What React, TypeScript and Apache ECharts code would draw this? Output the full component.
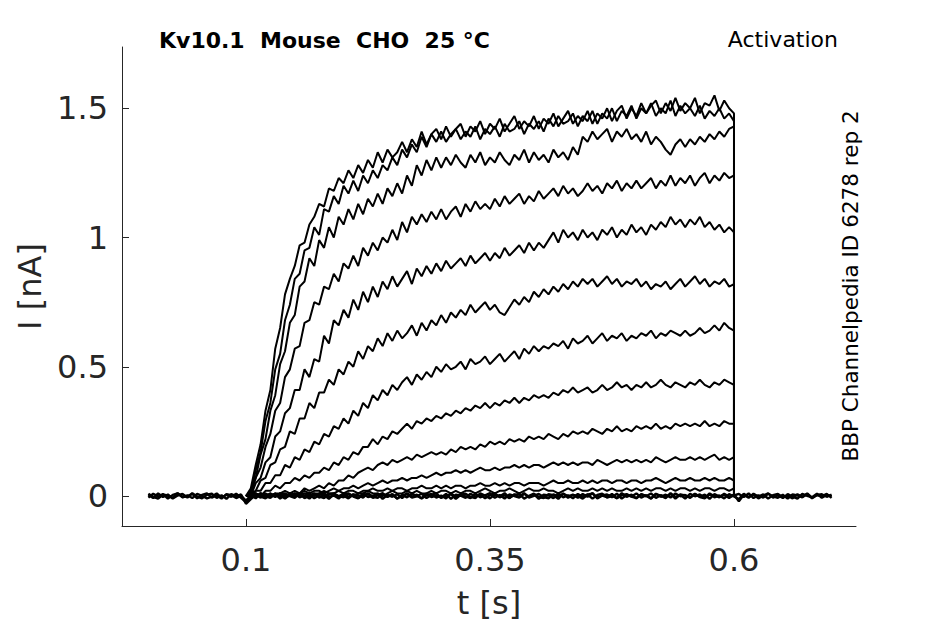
import React, { useEffect, useRef } from "react";
import * as echarts from "echarts";

// ---- Text ----
const TITLE = "Kv10.1  Mouse  CHO  25 °C";
const PROTOCOL = "Activation";
const SOURCE = "BBP Channelpedia ID 6278 rep 2";
const X_NAME = "t [s]";
const Y_NAME = "I [nA]";
const X_TICKS = [0.1, 0.35, 0.6];
const Y_TICKS = [0, 0.5, 1, 1.5];

// ---- Sample times (s) ----
const T_PRE = [0, 0.005, 0.01, 0.015, 0.02, 0.025, 0.03, 0.035, 0.04, 0.045, 0.05, 0.055, 0.06, 0.065, 0.07, 0.075, 0.08, 0.085, 0.09, 0.095];
const T_ACT = [
  0.1, 0.105, 0.11, 0.115, 0.12, 0.125, 0.13, 0.135, 0.14, 0.145,
  0.15, 0.155, 0.16, 0.165, 0.17, 0.175, 0.18, 0.185, 0.19, 0.195,
  0.2, 0.205, 0.21, 0.215, 0.22, 0.225, 0.23, 0.235, 0.24, 0.245,
  0.25, 0.255, 0.26, 0.265, 0.27, 0.275, 0.28, 0.285, 0.29, 0.295,
  0.3, 0.305, 0.31, 0.315, 0.32, 0.325, 0.33, 0.335, 0.34, 0.345,
  0.35, 0.355, 0.36, 0.365, 0.37, 0.375, 0.38, 0.385, 0.39, 0.395,
  0.4, 0.405, 0.41, 0.415, 0.42, 0.425, 0.43, 0.435, 0.44, 0.445,
  0.45, 0.455, 0.46, 0.465, 0.47, 0.475, 0.48, 0.485, 0.49, 0.495,
  0.5, 0.505, 0.51, 0.515, 0.52, 0.525, 0.53, 0.535, 0.54, 0.545,
  0.55, 0.555, 0.56, 0.565, 0.57, 0.575, 0.58, 0.585, 0.59, 0.595,
  0.6,
];
const T_POST = [0.605, 0.61, 0.615, 0.62, 0.625, 0.63, 0.635, 0.64, 0.645, 0.65, 0.655, 0.66, 0.665, 0.67, 0.675, 0.68, 0.685, 0.69, 0.695, 0.7];

// ---- Currents (nA) during the voltage step, one array per sweep ----
const SWEEP_A = [
  0.00, 0.03, 0.12, 0.20, 0.33, 0.41, 0.57, 0.65, 0.78, 0.84,
  0.89, 0.97, 0.98, 1.05, 1.08, 1.13, 1.12, 1.19, 1.18, 1.23,
  1.21, 1.26, 1.23, 1.28, 1.25, 1.30, 1.27, 1.33, 1.29, 1.34,
  1.31, 1.33, 1.37, 1.33, 1.38, 1.35, 1.41, 1.36, 1.40, 1.42,
  1.38, 1.43, 1.39, 1.42, 1.44, 1.39, 1.43, 1.41, 1.45, 1.40,
  1.44, 1.42, 1.46, 1.41, 1.44, 1.47, 1.42, 1.45, 1.43, 1.47,
  1.42, 1.46, 1.44, 1.48, 1.43, 1.46, 1.49, 1.44, 1.47, 1.45,
  1.49, 1.44, 1.48, 1.46, 1.50, 1.45, 1.49, 1.51, 1.46, 1.50,
  1.47, 1.52, 1.48, 1.51, 1.53, 1.48, 1.52, 1.49, 1.54, 1.49,
  1.52, 1.50, 1.54, 1.48, 1.52, 1.51, 1.55, 1.49, 1.53, 1.50,
  1.48,
];
const SWEEP_B = [
  0.00, 0.01, 0.10, 0.17, 0.29, 0.36, 0.49, 0.55, 0.68, 0.74,
  0.84, 0.86, 0.95, 0.96, 1.04, 1.01, 1.11, 1.10, 1.16, 1.13,
  1.20, 1.17, 1.22, 1.18, 1.24, 1.21, 1.26, 1.23, 1.28, 1.26,
  1.31, 1.28, 1.34, 1.31, 1.36, 1.33, 1.39, 1.35, 1.40, 1.37,
  1.41, 1.37, 1.40, 1.42, 1.38, 1.41, 1.39, 1.43, 1.38, 1.42,
  1.40, 1.43, 1.39, 1.44, 1.41, 1.42, 1.45, 1.40, 1.44, 1.42,
  1.45, 1.41, 1.46, 1.43, 1.47, 1.44, 1.45, 1.48, 1.43, 1.47,
  1.45, 1.49, 1.44, 1.48, 1.46, 1.50, 1.45, 1.49, 1.47, 1.51,
  1.46, 1.50, 1.48, 1.52, 1.47, 1.50, 1.48, 1.53, 1.47, 1.51,
  1.48, 1.50, 1.47, 1.51, 1.46, 1.49, 1.47, 1.50, 1.46, 1.48,
  1.45,
];
const SWEEP_C = [
  0.00, 0.02, 0.07, 0.16, 0.22, 0.33, 0.39, 0.51, 0.56, 0.67,
  0.70, 0.81, 0.83, 0.92, 0.89, 0.99, 0.96, 1.04, 1.00, 1.08,
  1.05, 1.11, 1.07, 1.13, 1.09, 1.15, 1.12, 1.17, 1.13, 1.19,
  1.16, 1.21, 1.17, 1.24, 1.20, 1.28, 1.24, 1.30, 1.26, 1.31,
  1.27, 1.31, 1.28, 1.32, 1.29, 1.27, 1.32, 1.29, 1.33, 1.28,
  1.31, 1.29, 1.33, 1.30, 1.28, 1.32, 1.30, 1.34, 1.29, 1.33,
  1.30, 1.32, 1.29, 1.34, 1.31, 1.33, 1.30, 1.35, 1.32, 1.39,
  1.37, 1.41, 1.38, 1.40, 1.42, 1.37, 1.41, 1.39, 1.42, 1.38,
  1.40, 1.37, 1.41, 1.36, 1.39, 1.37, 1.34, 1.32, 1.36, 1.38,
  1.35, 1.38, 1.36, 1.39, 1.37, 1.40, 1.38, 1.41, 1.39, 1.42,
  1.43,
];
const SWEEP_D = [
  0.00, 0.01, 0.07, 0.11, 0.19, 0.24, 0.33, 0.36, 0.46, 0.49,
  0.57, 0.58, 0.67, 0.68, 0.75, 0.74, 0.81, 0.80, 0.86, 0.83,
  0.90, 0.88, 0.93, 0.89, 0.96, 0.93, 0.98, 0.95, 1.00, 0.98,
  1.03, 0.99, 1.06, 1.02, 1.08, 1.05, 1.09, 1.06, 1.10, 1.07,
  1.11, 1.07, 1.10, 1.12, 1.08, 1.13, 1.10, 1.14, 1.11, 1.13,
  1.11, 1.15, 1.12, 1.16, 1.13, 1.15, 1.17, 1.13, 1.16, 1.14,
  1.18, 1.15, 1.17, 1.19, 1.16, 1.20, 1.17, 1.19, 1.16, 1.18,
  1.21, 1.18, 1.20, 1.17, 1.21, 1.19, 1.22, 1.18, 1.21, 1.19,
  1.22, 1.19, 1.21, 1.23, 1.19, 1.22, 1.20, 1.24, 1.20, 1.23,
  1.21, 1.24, 1.20, 1.23, 1.25, 1.21, 1.24, 1.22, 1.25, 1.23,
  1.24,
];
const SWEEP_E = [
  0.00, 0.00, 0.05, 0.07, 0.13, 0.15, 0.23, 0.25, 0.32, 0.34,
  0.41, 0.41, 0.49, 0.46, 0.53, 0.52, 0.62, 0.59, 0.68, 0.66,
  0.72, 0.69, 0.76, 0.72, 0.79, 0.75, 0.81, 0.77, 0.83, 0.80,
  0.85, 0.81, 0.84, 0.87, 0.82, 0.88, 0.85, 0.89, 0.86, 0.90,
  0.87, 0.91, 0.88, 0.90, 0.92, 0.89, 0.93, 0.90, 0.92, 0.94,
  0.91, 0.94, 0.92, 0.96, 0.93, 0.95, 0.97, 0.94, 0.98, 0.95,
  0.98, 0.96, 0.99, 1.02, 0.98, 1.03, 1.00, 1.02, 0.99, 1.03,
  1.00, 1.02, 0.99, 1.03, 1.01, 1.04, 1.00, 1.03, 1.01, 1.05,
  1.02, 1.04, 1.01, 1.05, 1.03, 1.06, 1.04, 1.08, 1.05, 1.07,
  1.04, 1.07, 1.05, 1.08, 1.04, 1.06, 1.03, 1.05, 1.02, 1.04,
  1.02,
];
const SWEEP_F = [
  0.00, 0.01, 0.02, 0.06, 0.07, 0.12, 0.13, 0.18, 0.19, 0.25,
  0.24, 0.30, 0.30, 0.36, 0.34, 0.40, 0.40, 0.45, 0.43, 0.49,
  0.47, 0.52, 0.50, 0.56, 0.53, 0.58, 0.56, 0.61, 0.58, 0.63,
  0.60, 0.64, 0.61, 0.63, 0.66, 0.62, 0.67, 0.64, 0.68, 0.66,
  0.70, 0.67, 0.71, 0.69, 0.72, 0.70, 0.74, 0.71, 0.73, 0.75,
  0.72, 0.74, 0.71, 0.70, 0.73, 0.76, 0.74, 0.77, 0.75, 0.79,
  0.77, 0.80, 0.78, 0.81, 0.79, 0.82, 0.80, 0.83, 0.81, 0.84,
  0.82, 0.84, 0.81, 0.83, 0.85, 0.82, 0.84, 0.81, 0.83, 0.82,
  0.84, 0.81, 0.83, 0.80, 0.82, 0.81, 0.83, 0.80, 0.82, 0.84,
  0.81, 0.83, 0.85, 0.82, 0.84, 0.81, 0.83, 0.82, 0.84, 0.81,
  0.82,
];
const SWEEP_G = [
  0.00, 0.00, 0.02, 0.02, 0.05, 0.05, 0.08, 0.08, 0.12, 0.11,
  0.15, 0.14, 0.18, 0.17, 0.21, 0.20, 0.24, 0.23, 0.27, 0.26,
  0.30, 0.28, 0.33, 0.31, 0.36, 0.34, 0.39, 0.37, 0.41, 0.39,
  0.43, 0.41, 0.44, 0.46, 0.43, 0.47, 0.45, 0.48, 0.46, 0.50,
  0.48, 0.51, 0.49, 0.50, 0.52, 0.49, 0.53, 0.51, 0.52, 0.54,
  0.51, 0.53, 0.55, 0.52, 0.54, 0.56, 0.53, 0.57, 0.55, 0.58,
  0.56, 0.58, 0.57, 0.59, 0.58, 0.60, 0.57, 0.61, 0.59, 0.60,
  0.62, 0.59, 0.61, 0.63, 0.60, 0.62, 0.61, 0.63, 0.60, 0.62,
  0.61, 0.63, 0.62, 0.64, 0.61, 0.63, 0.62, 0.64, 0.63, 0.62,
  0.64, 0.62, 0.63, 0.65, 0.63, 0.64, 0.66, 0.64, 0.67, 0.65,
  0.64,
];
const SWEEP_H = [
  0.00, 0.00, 0.01, 0.00, 0.02, 0.02, 0.04, 0.03, 0.05, 0.05,
  0.07, 0.06, 0.08, 0.07, 0.09, 0.09, 0.11, 0.10, 0.13, 0.12,
  0.15, 0.14, 0.17, 0.16, 0.19, 0.19, 0.22, 0.20, 0.23, 0.22,
  0.25, 0.24, 0.26, 0.28, 0.26, 0.29, 0.28, 0.30, 0.29, 0.31,
  0.30, 0.32, 0.31, 0.33, 0.32, 0.34, 0.33, 0.35, 0.34, 0.36,
  0.34, 0.36, 0.35, 0.37, 0.36, 0.38, 0.36, 0.38, 0.37, 0.39,
  0.38, 0.39, 0.38, 0.40, 0.39, 0.41, 0.40, 0.42, 0.40, 0.41,
  0.42, 0.40, 0.41, 0.43, 0.41, 0.42, 0.44, 0.42, 0.43, 0.41,
  0.43, 0.42, 0.44, 0.42, 0.43, 0.45, 0.43, 0.42, 0.44, 0.43,
  0.42, 0.44, 0.43, 0.45, 0.43, 0.42, 0.44, 0.43, 0.45, 0.44,
  0.43,
];
const SWEEP_I = [
  0.00, 0.00, 0.01, 0.00, 0.01, 0.00, 0.01, 0.01, 0.02, 0.01,
  0.02, 0.01, 0.03, 0.02, 0.03, 0.04, 0.03, 0.05, 0.04, 0.06,
  0.06, 0.08, 0.07, 0.09, 0.10, 0.11, 0.10, 0.12, 0.13, 0.12,
  0.14, 0.13, 0.14, 0.15, 0.14, 0.16, 0.15, 0.16, 0.17, 0.16,
  0.17, 0.16, 0.18, 0.17, 0.19, 0.18, 0.19, 0.18, 0.20, 0.19,
  0.21, 0.20, 0.21, 0.20, 0.22, 0.21, 0.22, 0.21, 0.23, 0.22,
  0.23, 0.22, 0.24, 0.23, 0.22, 0.24, 0.23, 0.25, 0.24, 0.25,
  0.24, 0.26, 0.25, 0.24, 0.26, 0.25, 0.27, 0.25, 0.26, 0.25,
  0.27, 0.26, 0.27, 0.26, 0.28, 0.26, 0.27, 0.26, 0.28, 0.27,
  0.28, 0.27, 0.28, 0.27, 0.29, 0.27, 0.28, 0.27, 0.29, 0.28,
  0.28,
];
const SWEEP_J = [
  0.00, 0.00, 0.00, 0.01, 0.00, 0.01, 0.00, 0.01, 0.01, 0.00,
  0.01, 0.01, 0.02, 0.01, 0.02, 0.02, 0.01, 0.02, 0.03, 0.02,
  0.03, 0.03, 0.04, 0.03, 0.04, 0.05, 0.04, 0.05, 0.06, 0.05,
  0.06, 0.06, 0.07, 0.06, 0.07, 0.07, 0.08, 0.07, 0.08, 0.09,
  0.08, 0.09, 0.09, 0.10, 0.09, 0.10, 0.09, 0.10, 0.11, 0.10,
  0.10, 0.11, 0.10, 0.11, 0.11, 0.12, 0.11, 0.12, 0.11, 0.12,
  0.12, 0.11, 0.12, 0.13, 0.12, 0.13, 0.12, 0.13, 0.12, 0.13,
  0.13, 0.12, 0.14, 0.13, 0.12, 0.13, 0.14, 0.13, 0.14, 0.13,
  0.14, 0.13, 0.14, 0.13, 0.15, 0.14, 0.13, 0.14, 0.15, 0.14,
  0.14, 0.15, 0.14, 0.15, 0.14, 0.15, 0.16, 0.14, 0.15, 0.14,
  0.15,
];
const SWEEP_K = [
  0.00, 0.00, 0.01, 0.00, 0.00, 0.01, 0.00, 0.01, 0.00, 0.01,
  0.00, 0.01, 0.01, 0.00, 0.01, 0.01, 0.02, 0.01, 0.01, 0.02,
  0.01, 0.02, 0.02, 0.01, 0.02, 0.02, 0.03, 0.02, 0.02, 0.03,
  0.02, 0.03, 0.03, 0.02, 0.03, 0.03, 0.04, 0.03, 0.03, 0.04,
  0.03, 0.04, 0.03, 0.04, 0.04, 0.03, 0.04, 0.04, 0.05, 0.04,
  0.04, 0.05, 0.04, 0.05, 0.04, 0.05, 0.05, 0.04, 0.05, 0.05,
  0.05, 0.04, 0.05, 0.06, 0.05, 0.05, 0.06, 0.05, 0.05, 0.06,
  0.05, 0.06, 0.05, 0.06, 0.06, 0.05, 0.06, 0.06, 0.05, 0.06,
  0.06, 0.05, 0.06, 0.06, 0.07, 0.06, 0.05, 0.06, 0.07, 0.06,
  0.06, 0.07, 0.06, 0.06, 0.07, 0.06, 0.07, 0.06, 0.06, 0.07,
  0.06,
];
const SWEEP_L = [
  0.00, 0.00, 0.00, 0.01, 0.00, 0.00, 0.01, 0.00, 0.01, 0.00,
  0.01, 0.00, 0.01, 0.01, 0.00, 0.01, 0.00, 0.01, 0.01, 0.00,
  0.01, 0.01, 0.00, 0.01, 0.01, 0.02, 0.01, 0.01, 0.00, 0.01,
  0.02, 0.01, 0.01, 0.02, 0.01, 0.02, 0.01, 0.01, 0.02, 0.01,
  0.02, 0.02, 0.01, 0.02, 0.01, 0.02, 0.02, 0.01, 0.02, 0.03,
  0.02, 0.01, 0.02, 0.02, 0.03, 0.02, 0.01, 0.02, 0.03, 0.02,
  0.02, 0.03, 0.02, 0.02, 0.01, 0.02, 0.03, 0.02, 0.03, 0.02,
  0.02, 0.03, 0.02, 0.03, 0.02, 0.03, 0.02, 0.02, 0.03, 0.02,
  0.03, 0.02, 0.03, 0.02, 0.03, 0.03, 0.02, 0.03, 0.02, 0.03,
  0.03, 0.02, 0.03, 0.02, 0.03, 0.03, 0.02, 0.03, 0.03, 0.02,
  0.03,
];

// ---- Non-activating sweeps (whole record, baseline band) ----
const REST_M_PRE = [0.004, -0.008, 0.010, -0.004, 0.006, -0.010, 0.002, 0.008, -0.006, 0.011, -0.002, -0.009, 0.005, 0.009, -0.007, 0.003, -0.011, 0.007, -0.001, 0.006];
const REST_M_ACT = [
  -0.030, -0.012, 0.004, -0.006, 0.009, -0.003, 0.007, -0.010, 0.005, 0.000,
  -0.007, 0.010, -0.004, 0.006, -0.009, 0.003, 0.011, -0.005, 0.002, -0.010,
  0.008, -0.002, 0.006, -0.008, 0.010, -0.004, 0.001, 0.009, -0.011, 0.004,
  -0.003, 0.007, -0.008, 0.011, -0.002, 0.005, -0.010, 0.003, 0.008, -0.006,
  0.002, -0.009, 0.010, -0.004, 0.006, -0.001, -0.008, 0.009, -0.005, 0.003,
  0.011, -0.007, 0.004, -0.010, 0.006, 0.000, -0.006, 0.009, -0.003, 0.007,
  -0.011, 0.005, 0.002, -0.008, 0.010, -0.005, 0.003, -0.009, 0.008, -0.002,
  0.006, -0.010, 0.004, 0.009, -0.006, 0.001, -0.008, 0.011, -0.003, 0.005,
  -0.009, 0.007, -0.001, 0.010, -0.007, 0.003, -0.004, 0.008, -0.010, 0.006,
  0.002, -0.006, 0.009, -0.003, 0.005, -0.011, 0.007, -0.002, 0.004, -0.008,
  0.006,
];
const REST_M_POST = [-0.020, 0.005, -0.007, 0.009, -0.002, 0.006, -0.010, 0.003, 0.008, -0.005, 0.001, -0.009, 0.007, -0.003, 0.010, -0.006, 0.004, -0.001, 0.008, -0.007];
const REST_N_PRE = [-0.006, 0.009, -0.002, 0.007, -0.010, 0.004, 0.010, -0.005, 0.003, -0.008, 0.008, 0.001, -0.009, -0.002, 0.010, -0.006, 0.005, -0.003, 0.009, -0.007];
const REST_N_ACT = [
  -0.024, -0.006, 0.008, -0.002, -0.009, 0.006, -0.004, 0.010, -0.007, 0.003,
  0.009, -0.005, 0.002, -0.010, 0.007, -0.001, -0.008, 0.005, 0.010, -0.004,
  0.001, -0.009, 0.006, 0.003, -0.006, 0.011, -0.003, -0.007, 0.008, -0.002,
  0.007, -0.010, 0.004, -0.005, 0.009, 0.000, -0.008, 0.010, -0.004, 0.002,
  -0.006, 0.008, -0.011, 0.005, 0.001, -0.007, 0.009, -0.002, 0.006, -0.009,
  0.003, 0.010, -0.005, 0.002, -0.008, 0.007, -0.003, 0.011, -0.006, 0.001,
  0.008, -0.004, -0.009, 0.006, -0.001, 0.009, -0.007, 0.004, 0.000, -0.010,
  0.005, 0.010, -0.006, 0.002, -0.004, 0.008, -0.009, 0.003, 0.007, -0.002,
  -0.008, 0.006, 0.001, -0.010, 0.009, -0.003, 0.005, -0.006, 0.010, -0.001,
  0.004, -0.007, 0.008, -0.004, -0.009, 0.006, 0.002, -0.005, 0.009, -0.003,
  0.002,
];
const REST_N_POST = [0.008, -0.004, 0.010, -0.008, 0.003, -0.006, 0.009, -0.001, -0.007, 0.005, -0.010, 0.006, 0.002, -0.005, 0.008, -0.009, 0.004, 0.007, -0.003, 0.005];
const REST_O_PRE = [0.009, -0.003, -0.010, 0.006, 0.001, -0.007, 0.011, -0.004, -0.001, 0.008, -0.009, 0.004, 0.010, -0.006, 0.002, -0.010, 0.007, 0.003, -0.008, 0.001];
const REST_O_ACT = [
  -0.018, 0.004, -0.009, 0.011, -0.001, -0.007, 0.008, 0.002, -0.010, 0.006,
  -0.003, 0.009, -0.008, 0.001, 0.010, -0.006, 0.004, -0.011, 0.007, 0.000,
  -0.005, 0.010, -0.002, -0.009, 0.005, 0.008, -0.007, 0.003, 0.011, -0.004,
  0.006, -0.010, 0.002, 0.008, -0.006, -0.001, 0.009, -0.008, 0.004, 0.010,
  -0.007, 0.001, 0.007, -0.011, 0.005, 0.009, -0.003, -0.008, 0.010, 0.002,
  -0.009, 0.006, -0.002, 0.011, -0.006, 0.004, 0.008, -0.010, 0.001, 0.009,
  -0.004, -0.008, 0.007, 0.003, -0.011, 0.010, -0.001, 0.005, -0.007, 0.008,
  -0.003, 0.011, -0.009, 0.002, 0.006, -0.005, 0.009, -0.010, 0.004, -0.002,
  0.010, -0.006, 0.003, -0.009, 0.007, 0.001, -0.008, 0.011, -0.004, 0.005,
  -0.010, 0.008, -0.001, 0.006, -0.007, 0.010, -0.005, 0.002, -0.009, 0.007,
  -0.002,
];
const REST_O_POST = [-0.012, 0.009, -0.004, 0.006, -0.009, 0.002, 0.010, -0.006, 0.003, -0.008, 0.007, -0.002, -0.010, 0.008, 0.001, -0.005, 0.009, -0.007, 0.004, -0.001];

const ACTIVE_SWEEPS = [SWEEP_A, SWEEP_B, SWEEP_C, SWEEP_D, SWEEP_E, SWEEP_F, SWEEP_G, SWEEP_H, SWEEP_I, SWEEP_J, SWEEP_K, SWEEP_L];
const REST_SWEEPS = [
  [REST_M_PRE, REST_M_ACT, REST_M_POST],
  [REST_N_PRE, REST_N_ACT, REST_N_POST],
  [REST_O_PRE, REST_O_ACT, REST_O_POST],
];

const FONT = "DejaVu Sans";
const INK = "#262626";

const zip = (ts: number[], vs: number[]) => ts.map((t, i) => [t, vs[i]]);

function buildOption() {
  const lineBase = {
    type: "line",
    showSymbol: false,
    symbol: "none",
    silent: true,
    animation: false,
  };
  const series: any[] = [];
  REST_SWEEPS.forEach(([pre, act, post]) => {
    series.push({
      ...lineBase,
      lineStyle: { color: "#000", width: 2.4 },
      data: [...zip(T_PRE, pre), ...zip(T_ACT, act), ...zip(T_POST, post)],
    });
  });
  ACTIVE_SWEEPS.forEach((vals) => {
    series.push({
      ...lineBase,
      lineStyle: { color: "#000", width: 2 },
      data: [...zip(T_ACT, vals), [T_ACT[T_ACT.length - 1], 0]],
    });
  });

  return {
    animation: false,
    backgroundColor: "#fff",
    grid: { left: 122, right: 89, top: 47, bottom: 98, containLabel: false },
    xAxis: {
      type: "value",
      min: -0.027,
      max: 0.725,
      name: X_NAME,
      nameLocation: "middle",
      nameGap: 61,
      nameTextStyle: { fontSize: 32, fontFamily: FONT, color: INK },
      axisLine: { onZero: false, lineStyle: { color: INK, width: 1 } },
      axisTick: { inside: true, length: 7, customValues: X_TICKS, lineStyle: { color: INK } },
      axisLabel: {
        customValues: X_TICKS,
        margin: 18,
        fontSize: 32,
        fontFamily: FONT,
        color: INK,
        formatter: (v: number) => String(v),
      },
      splitLine: { show: false },
    },
    yAxis: {
      type: "value",
      min: -0.116,
      max: 1.737,
      name: Y_NAME,
      nameLocation: "middle",
      nameGap: 76,
      nameRotate: 90,
      nameTextStyle: { fontSize: 32, fontFamily: FONT, color: INK },
      axisLine: { show: true, onZero: false, lineStyle: { color: INK, width: 1 } },
      axisTick: { show: true, inside: true, length: 7, customValues: Y_TICKS, lineStyle: { color: INK } },
      axisLabel: {
        customValues: Y_TICKS,
        margin: 14,
        fontSize: 32,
        fontFamily: FONT,
        color: INK,
        formatter: (v: number) => String(v),
      },
      splitLine: { show: false },
    },
    graphic: [
      {
        type: "text",
        x: 159,
        y: 40,
        silent: true,
        style: { text: TITLE, fontSize: 22, fontWeight: "bold", fontFamily: FONT, fill: "#000", align: "left", verticalAlign: "middle" },
      },
      {
        type: "text",
        x: 838,
        y: 39,
        silent: true,
        style: { text: PROTOCOL, fontSize: 22, fontFamily: FONT, fill: "#000", align: "right", verticalAlign: "middle" },
      },
      {
        type: "text",
        x: 850,
        y: 286,
        rotation: Math.PI / 2,
        silent: true,
        style: { text: SOURCE, fontSize: 21.5, fontFamily: FONT, fill: "#000", align: "center", verticalAlign: "middle" },
      },
    ],
    series,
  };
}

export default function App() {
  const ref = useRef<HTMLDivElement>(null);
  useEffect(() => {
    document.body.style.margin = "0";
    if (!ref.current) return;
    const chart = echarts.init(ref.current, null, { renderer: "svg" });
    chart.setOption(buildOption() as any);
    return () => chart.dispose();
  }, []);
  return <div ref={ref} style={{ width: 945, height: 624 }} />;
}
